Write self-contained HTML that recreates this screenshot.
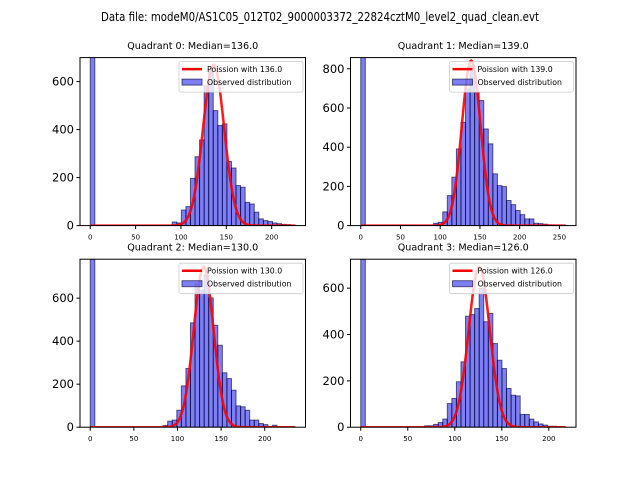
<!DOCTYPE html>
<html><head><meta charset="utf-8"><style>
body{margin:0;background:#fff}
svg{display:block;font-family:"DejaVu Sans","Liberation Sans",sans-serif}
</style></head><body>
<svg id="fig" width="640" height="480" viewBox="0 0 640 480" xmlns="http://www.w3.org/2000/svg">
<rect width="640" height="480" fill="#fff"/>
<text x="320" y="21" text-anchor="middle" font-size="12.5" textLength="438" lengthAdjust="spacingAndGlyphs">Data file: modeM0/AS1C05_012T02_9000003372_22824cztM0_level2_quad_clean.evt</text>
</svg>
<script>
const titles=["Quadrant 0: Median=136.0","Quadrant 1: Median=139.0","Quadrant 2: Median=130.0","Quadrant 3: Median=126.0"];
const lambdas=[136,139,130,126];
const curvePeaks=[670,842,745,692];
const xMaxes=[226,258,235,218];
const yMaxes=[700,857,781,725];
const yTicks=[[0,200,400,600],[0,200,400,600,800],[0,200,400,600],[0,200,400,600]];
const xTicks=[[0,50,100,150,200],[0,50,100,150,200,250],[0,50,100,150,200],[0,50,100,150,200]];
const counts0=[1500,0,0,0,0,0,0,0,0,0,0,0,0,0,0,0,0,0,15,11,65,79,197,287,357,583,639,479,417,424,267,240,167,160,97,90,56,28,21,17,11,8,5,4,2];
const counts1=[1500,0,0,0,0,0,0,0,0,0,0,0,0,0,0,0,12,17,70,153,247,391,527,697,816,680,638,493,417,264,204,199,128,107,77,56,34,34,12,10,7,4,3,2,1];
const counts2=[1500,0,0,0,0,0,0,0,0,0,0,0,0,0,0,0,8,28,33,79,192,273,485,668,637,707,601,474,381,253,226,172,99,95,79,33,33,17,12,3,9,1,1,1,1];
const counts3=[1500,0,0,0,0,0,0,0,0,0,0,0,0,0,6,6,12,20,35,102,124,196,282,479,486,512,599,455,491,361,289,253,167,138,135,55,55,35,23,14,9,4,4,1,0];
const allCounts=[counts0,counts1,counts2,counts3];

const NS="http://www.w3.org/2000/svg";
const fig=document.getElementById('fig');
function mk(tag,attrs,parent){const e=document.createElementNS(NS,tag);for(const k in attrs)e.setAttribute(k,attrs[k]);(parent||fig).appendChild(e);return e;}
const AW=225.5,AH=168;
const lefts=[80,350.5,80,350.5], tops=[57.6,57.6,259.2,259.2];
for(let q=0;q<4;q++){
  const L=lefts[q],T=tops[q],B=T+AH,R=L+AW;
  const M=xMaxes[q],lo=-0.05*M,hi=1.05*M;
  const xs=v=>L+(v-lo)/(hi-lo)*AW;
  const ys=v=>B-v/yMaxes[q]*AH;
  const g=mk('g',{});
  
  
  const cp=mk('clipPath',{id:'c'+q},g);mk('rect',{x:L,y:T,width:AW,height:AH},cp);
  const pl=mk('g',{'clip-path':'url(#c'+q+')'},g);
  const cnt=allCounts[q],bw=M/cnt.length;
  cnt.forEach((c,i)=>{if(c<=0)return;
    const r=mk('rect',{x:xs(i*bw),y:ys(c),width:xs((i+1)*bw)-xs(i*bw),height:ys(0)-ys(c),fill:'rgba(0,0,235,0.5)',stroke:'rgba(0,0,50,0.6)','stroke-width':1},pl);
    
    
  });
  let d='';const lam=lambdas[q];
  for(let k=0;k<=Math.round(M);k++){const v=curvePeaks[q]*Math.exp(-(k-lam)*(k-lam)/(2*lam));d+=(k?'L':'M')+xs(k).toFixed(2)+','+ys(v).toFixed(2);}
  const cu=mk('path',{d:d,fill:'none',stroke:'rgba(255,0,0,0.9)','stroke-width':2.5},pl);
  
  
  const fr=mk('rect',{x:L,y:T,width:AW,height:AH,fill:'none',stroke:'#000','stroke-width':1},g);
  
  
  yTicks[q].forEach(v=>{const y=ys(v);mk('line',{x1:L-3.5,x2:L,y1:y,y2:y,stroke:'#000'},g);
    const t=mk('text',{x:L-6,y:y+4,'text-anchor':'end','font-size':11.5},g);t.textContent=v;
    
    });
  xTicks[q].forEach(v=>{const x=xs(v);mk('line',{x1:x,x2:x,y1:B,y2:B+3.5,stroke:'#000'},g);
    const t=mk('text',{x:x,y:B+14,'text-anchor':'middle','font-size':7},g);t.textContent=v;
    
    });
  const tt=mk('text',{x:L+AW/2,y:T-8.5,'text-anchor':'middle','font-size':9.6},g);tt.textContent=titles[q];
  
  
  const lg=mk('g',{},g);
  
  
  const lx=R-126.5,ly=T+4;
  mk('rect',{x:lx,y:ly,width:124,height:30.5,rx:2,fill:'rgba(255,255,255,0.8)',stroke:'#ccc','stroke-width':0.8},lg);
  mk('line',{x1:lx+3,x2:lx+23,y1:ly+7.5,y2:ly+7.5,stroke:'red','stroke-width':2.5},lg);
  mk('rect',{x:lx+3,y:ly+17.5,width:20,height:6,fill:'rgba(0,0,235,0.5)',stroke:'rgba(0,0,50,0.6)'},lg);
  const t1=mk('text',{x:lx+28,y:ly+10.5,'font-size':7.8},lg);t1.textContent='Poission with '+lam.toFixed(1);
  
  
  const t2=mk('text',{x:lx+28,y:ly+23.5,'font-size':7.8},lg);t2.textContent='Observed distribution';
  
  
}
</script>
</body></html>
